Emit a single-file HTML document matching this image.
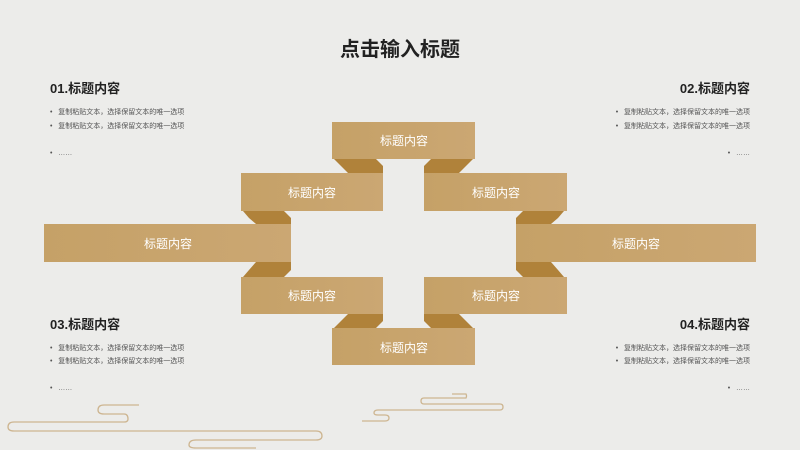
<!DOCTYPE html><html><head><meta charset="utf-8"><style>
body{margin:0;width:800px;height:450px;background:#ececea;overflow:hidden;font-family:"Liberation Sans","Noto Sans CJK SC",sans-serif}
</style></head><body>
<svg width="800" height="450" xmlns="http://www.w3.org/2000/svg" style="position:absolute;left:0;top:0">
<defs><linearGradient id="g" x1="0" y1="0" x2="1" y2="0"><stop offset="0" stop-color="#c5a167"/><stop offset="1" stop-color="#cba773"/></linearGradient></defs>
<text x="400" y="56" text-anchor="middle" font-size="20" font-weight="bold" fill="#222">点击输入标题</text>
<g fill="#b0823a">
<polygon points="334,159 376,159 383,166 383,173 348,173 341,166"/>
<polygon points="473,159 431,159 424,166 424,173 459,173 466,166"/>
<polygon points="243,211 284,211 291,218 291,224 256,224 249,218"/>
<polygon points="564,211 523,211 516,218 516,224 551,224 558,218"/>
<polygon points="256,262 291,262 291,270 284,277 243,277 249,270"/>
<polygon points="551,262 516,262 516,270 523,277 564,277 558,270"/>
<polygon points="348,314 383,314 383,321 376,328 334,328 341,321"/>
<polygon points="459,314 424,314 424,321 431,328 473,328 466,321"/>
</g>
<g fill="url(#g)">
<rect x="332" y="122" width="143" height="37"/>
<rect x="241" y="173" width="142" height="38"/>
<rect x="424" y="173" width="143" height="38"/>
<rect x="44" y="224" width="247" height="38"/>
<rect x="516" y="224" width="240" height="38"/>
<rect x="241" y="277" width="142" height="37"/>
<rect x="424" y="277" width="143" height="37"/>
<rect x="332" y="328" width="143" height="37"/>
</g>
<g fill="#fff" font-size="12" text-anchor="middle">
<text x="404" y="145">标题内容</text>
<text x="312" y="197">标题内容</text>
<text x="496" y="197">标题内容</text>
<text x="168" y="248">标题内容</text>
<text x="636" y="248">标题内容</text>
<text x="312" y="300">标题内容</text>
<text x="496" y="300">标题内容</text>
<text x="404" y="352">标题内容</text>
</g>
<g font-size="13" font-weight="bold" fill="#222">
<text x="50" y="93">01.标题内容</text>
<text x="750" y="93" text-anchor="end">02.标题内容</text>
<text x="50" y="329">03.标题内容</text>
<text x="750" y="329" text-anchor="end">04.标题内容</text>
</g>
<g font-size="7" fill="#555">
<text x="50" y="114">•&#160;&#160; 复制粘贴文本，选择保留文本的唯一选项</text>
<text x="50" y="128">•&#160;&#160; 复制粘贴文本，选择保留文本的唯一选项</text>
<text x="50" y="155">•&#160;&#160; ……</text>
<text x="750" y="114" text-anchor="end">•&#160;&#160; 复制粘贴文本，选择保留文本的唯一选项</text>
<text x="750" y="128" text-anchor="end">•&#160;&#160; 复制粘贴文本，选择保留文本的唯一选项</text>
<text x="750" y="155" text-anchor="end">•&#160;&#160; ……</text>
<text x="50" y="350">•&#160;&#160; 复制粘贴文本，选择保留文本的唯一选项</text>
<text x="50" y="363">•&#160;&#160; 复制粘贴文本，选择保留文本的唯一选项</text>
<text x="50" y="390">•&#160;&#160; ……</text>
<text x="750" y="350" text-anchor="end">•&#160;&#160; 复制粘贴文本，选择保留文本的唯一选项</text>
<text x="750" y="363" text-anchor="end">•&#160;&#160; 复制粘贴文本，选择保留文本的唯一选项</text>
<text x="750" y="390" text-anchor="end">•&#160;&#160; ……</text>
</g>
<g fill="none" stroke="#cdb590" stroke-width="1.3">
<path d="M139,405 H104 Q98,405 98,410 Q98,414 104,414 H124 Q128,414 128,419 Q128,422 124,422 H14 Q8,422 8,427 Q8,431 14,431 H316 Q322,431 322,436 Q322,440 316,440 H196 Q189,440 189,445 Q189,448 196,448 H256"/>
<path d="M452,394 H466 Q467,396 466,398 H424 Q421,398 421,401 Q421,404 424,404 H500 Q503,404 503,407 Q503,410 500,410 H378 Q374,410 374,413 Q374,415 378,415 H385 Q389,415 389,418 Q389,421 385,421 H362"/>
</g>
</svg>
</body></html>
